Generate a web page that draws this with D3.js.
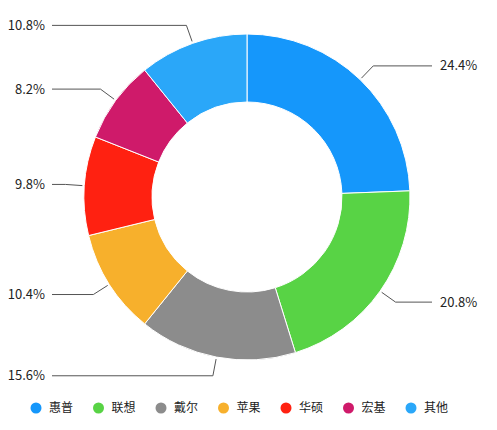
<!DOCTYPE html>
<html><head><meta charset="utf-8">
<script src="https://cdn.jsdelivr.net/npm/d3@7"></script>
<style>body{margin:0;background:#fff;font-family:"Noto Sans CJK SC",sans-serif;}</style>
</head><body><div id="chart"></div>
<script>
// Data
const categories = ["惠普", "联想", "戴尔", "苹果", "华硕", "宏基", "其他"];
const values = [24.4, 20.8, 15.6, 10.4, 9.8, 8.2, 10.8];
const colors = ["#1597fb", "#58d345", "#8c8c8c", "#f7b02c", "#ff2111", "#cf1a6a", "#2aa7f9"];

const width = 497, height = 430;
const cx = 247, cy = 197, outerR = 163, innerR = 95;

const svg = d3.select("#chart").append("svg")
  .attr("width", width).attr("height", height);

const g = svg.append("g").attr("transform", "translate(" + cx + "," + cy + ")");

const pie = d3.pie().sort(null).value(d => d)(values);
const arc = d3.arc().innerRadius(innerR).outerRadius(outerR);
const pt = (a, r) => [r * Math.sin(a), -r * Math.cos(a)];

g.selectAll("path.slice").data(pie).enter().append("path")
  .attr("d", arc)
  .attr("fill", (d, i) => colors[i])
  .attr("stroke", "#fff").attr("stroke-width", 1);

// label lines
pie.forEach((d, i) => {
  const a = (d.startAngle + d.endAngle) / 2;
  const p1 = pt(a, outerR + 2), p2 = pt(a, outerR + 19);
  const right = p2[0] > 0;
  const endX = right ? 432 - cx : 52 - cx;
  g.append("polyline")
    .attr("points", [p1, p2, [endX, p2[1]]].map(p => p.join(",")).join(" "))
    .attr("fill", "none").attr("stroke", "#555").attr("stroke-width", 1);
  g.append("text")
    .attr("x", right ? endX + 8 : endX - 7)
    .attr("y", p2[1]).attr("dy", "0.35em")
    .attr("text-anchor", right ? "start" : "end")
    .attr("font-size", 13).attr("fill", "#222")
    .text(values[i] + "%");
});

// legend
const legend = svg.append("g").selectAll("g").data(categories).enter().append("g")
  .attr("transform", (d, i) => "translate(" + (36 + i * 62.5) + ",408)");
legend.append("circle").attr("r", 5.5).attr("fill", (d, i) => colors[i]);
legend.append("text").attr("x", 13).attr("dy", "0.35em")
  .attr("font-size", 12).attr("fill", "#222").text(d => d);
</script></body></html>
